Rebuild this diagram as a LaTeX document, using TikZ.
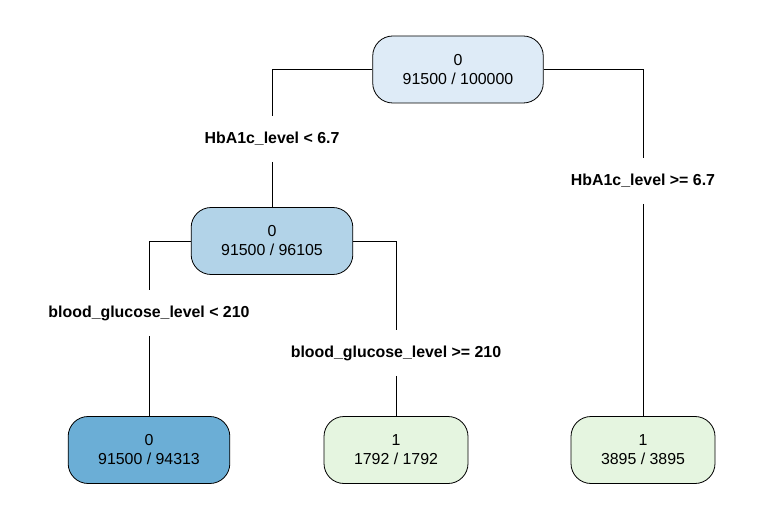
\documentclass[tikz,border=0pt]{standalone}
\usepackage{fontspec}
\setmainfont{Liberation Sans}
\usetikzlibrary{positioning}
\definecolor{rootblue}{HTML}{DEEBF7}
\definecolor{midblue}{HTML}{B2D3E8}
\definecolor{deepblue}{HTML}{6BAED6}
\definecolor{palegreen}{HTML}{E5F5E0}

\begin{document}
\begin{tikzpicture}[x=1bp,y=-1bp,line width=0.8bp,
   box/.style={draw,rounded corners=20bp,align=center,minimum height=67bp,inner xsep=30bp,font=\fontsize{15.9bp}{19bp}\selectfont},
   split/.style={font=\bfseries\fontsize{15.9bp}{19bp}\selectfont,minimum height=45bp,inner sep=0pt}]
   \useasboundingbox (0,0) rectangle (764,518);
   % tree nodes
   \node[box,fill=rootblue] (root) at (458,69.5) {0\\91500 / 100000};
   \node[box,fill=midblue] (hba) at (272,241) {0\\91500 / 96105};
   \node[box,fill=deepblue] (low) at (149,450) {0\\91500 / 94313};
   \node[box,fill=palegreen] (high) at (396,450) {1\\1792 / 1792};
   \node[box,fill=palegreen] (hbhigh) at (643,450) {1\\3895 / 3895};
   % split labels
   \node[split] (hbl) at (272,139) {HbA1c\_level < 6.7};
   \node[split] (hbr) at (643,181) {HbA1c\_level >= 6.7};
   \node[split] (bgl) at (149,313) {blood\_glucose\_level < 210};
   \node[split] (bgr) at (396,353) {blood\_glucose\_level >= 210};
   % branches
   \draw (root.west) -| (hbl.north);
   \draw (hbl.south) -- (hba.north);
   \draw (root.east) -| (hbr.north);
   \draw (hbr.south) -- (hbhigh.north);
   \draw (hba.west) -| (bgl.north);
   \draw (bgl.south) -- (low.north);
   \draw (hba.east) -| (bgr.north);
   \draw (bgr.south) -- (high.north);
\end{tikzpicture}
\end{document}
